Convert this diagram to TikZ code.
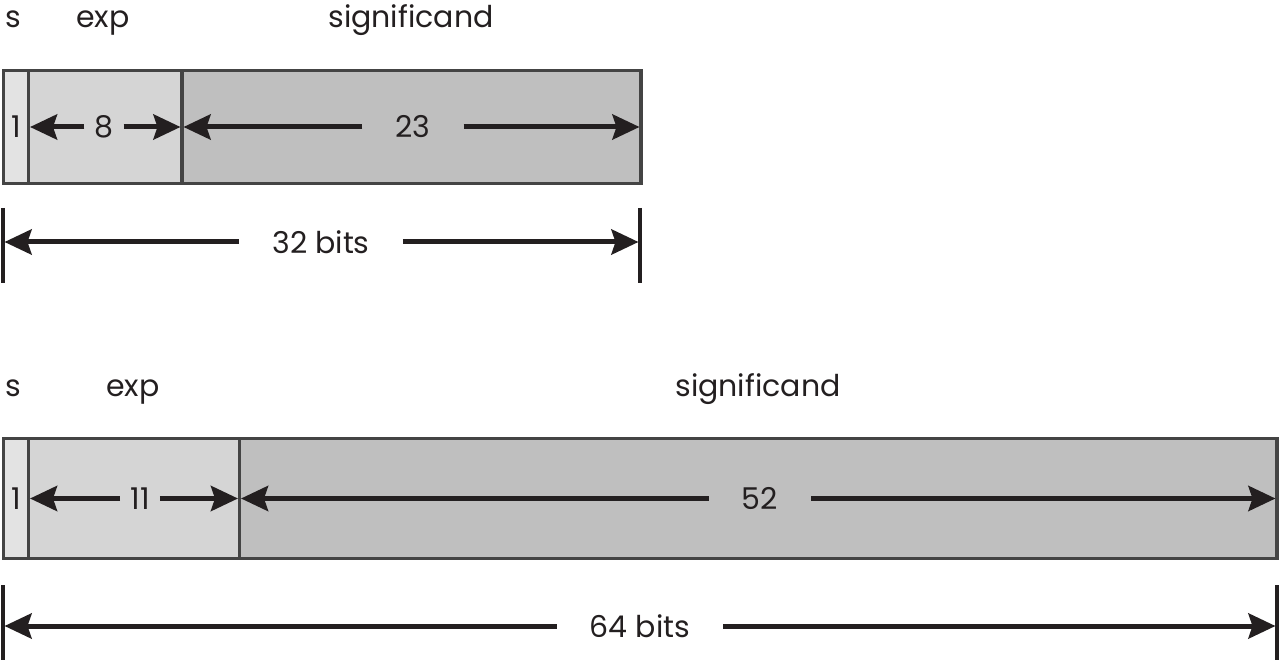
\documentclass[tikz,border=0pt]{standalone}
\usepackage{fontspec}
\setmainfont{Poppins}
\usepackage{tikz}
\usetikzlibrary{arrows.meta,positioning}
\definecolor{ink}{HTML}{231F20}
\definecolor{boxline}{HTML}{444444}
\definecolor{signfill}{HTML}{E3E3E3}
\definecolor{expfill}{HTML}{D5D5D5}
\definecolor{sigfill}{HTML}{BFBFBF}

\begin{document}
\begin{tikzpicture}[x=1pt,y=-1pt,
    every node/.style={font=\fontsize{30}{36}\selectfont,text=ink},
    field/.style={draw=boxline,line width=3.5pt,anchor=north west,inner sep=0pt,outer sep=0pt},
    dim/.style={draw=ink,line width=5pt,shorten >=1.5pt,-{Stealth[length=27pt,width=25pt,inset=4pt]}},
    tick/.style={draw=ink,line width=4pt},
    small/.style={inner xsep=10pt},
    wide/.style={inner xsep=33pt}]
    \useasboundingbox (0,0) rectangle (1280,660);

    % single precision
    \node[anchor=base] (hs32) at (13,28) {s};
    \node[anchor=base] (he32) at (103,28) {exp};
    \node[anchor=base] (hx32) at (411,28) {significand};
    \begin{scope}[every node/.append style={minimum height=113pt}]
    \node[field,fill=signfill,minimum width=25pt] (s32) at (3.5,70.5) {1};
    \node[field,fill=expfill,minimum width=153.5pt] (e32) at (s32.north east) {};
    \node[field,fill=sigfill,minimum width=459pt] (x32) at (e32.north east) {};
    \end{scope}
    \node[small] (ne32) at (s32.east -| 104,0) {8};
    \node[wide] (nx32) at (s32.east -| 413,0) {23};
    \draw[dim] (ne32.west) -- (s32.east);
    \draw[dim] (ne32.east) -- (x32.west);
    \draw[dim] (nx32.west) -- (x32.west);
    \draw[dim] (nx32.east) -- (x32.east);
    \coordinate (l32) at (3,242);
    \coordinate (r32) at (640,242);
    \draw[tick] ([yshift=34pt]l32) -- ([yshift=-41pt]l32);
    \draw[tick] ([yshift=34pt]r32) -- ([yshift=-41pt]r32);
    \node[wide] (b32) at (321,242) {32 bits};
    \draw[dim] (b32.west) -- (l32);
    \draw[dim] (b32.east) -- (r32);

    % double precision
    \node[anchor=base] (hs64) at (13,396) {s};
    \node[anchor=base] (he64) at (133,396) {exp};
    \node[anchor=base] (hx64) at (758,396) {significand};
    \begin{scope}[every node/.append style={minimum height=120pt}]
    \node[field,fill=signfill,minimum width=25pt] (s64) at (3.5,438.5) {1};
    \node[field,fill=expfill,minimum width=211pt] (e64) at (s64.north east) {};
    \node[field,fill=sigfill,minimum width=1037.5pt] (x64) at (e64.north east) {};
    \end{scope}
    \node[small] (ne64) at (s64.east -| 140,0) {11};
    \node[wide] (nx64) at (s64.east -| 760,0) {52};
    \draw[dim] (ne64.west) -- (s64.east);
    \draw[dim] (ne64.east) -- (x64.west);
    \draw[dim] (nx64.west) -- (x64.west);
    \draw[dim] (nx64.east) -- (x64.east);
    \coordinate (l64) at (3,626);
    \coordinate (r64) at (1277,626);
    \draw[tick] ([yshift=41pt]l64) -- ([yshift=-34pt]l64);
    \draw[tick] ([yshift=41pt]r64) -- ([yshift=-34pt]r64);
    \node[wide] (b64) at (640,626) {64 bits};
    \draw[dim] (b64.west) -- (l64);
    \draw[dim] (b64.east) -- (r64);
\end{tikzpicture}
\end{document}
